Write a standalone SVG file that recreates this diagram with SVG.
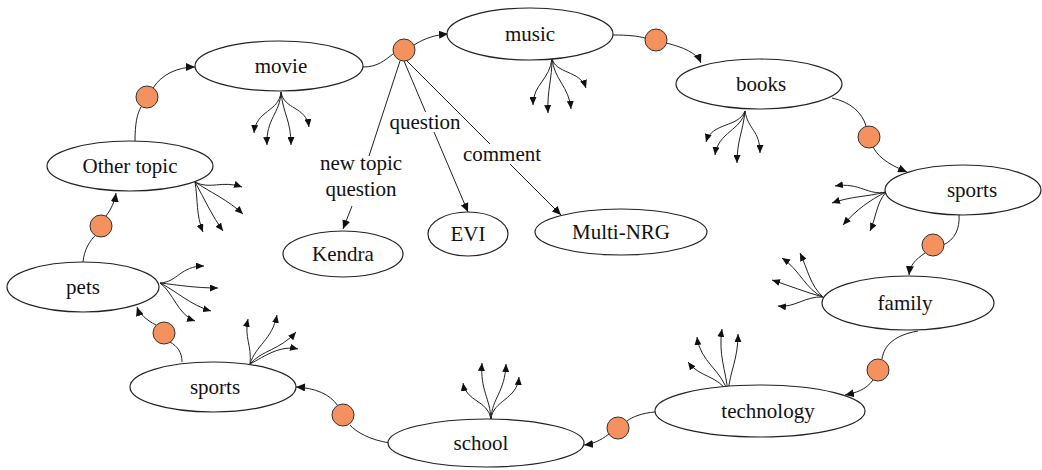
<svg xmlns="http://www.w3.org/2000/svg" width="1042" height="470" viewBox="0 0 1042 470">
  <defs>
    <marker id="arrow" markerUnits="userSpaceOnUse" markerWidth="9" markerHeight="8" refX="9" refY="4" orient="auto">
      <path d="M0,0 L9,4 L0,8 z" fill="#111"/>
    </marker>
    <marker id="arrow-sm" markerUnits="userSpaceOnUse" markerWidth="8" markerHeight="7" refX="8" refY="3.5" orient="auto">
      <path d="M0,0 L8,3.5 L0,7 z" fill="#111"/>
    </marker>
    <style>
      .node ellipse { fill: #fff; stroke: #222; stroke-width: 1.2; }
      .node text, .label { font-family: "Liberation Serif", "Times New Roman", serif; font-size: 21px; fill: #111; text-anchor: middle; }
      .link { fill: none; stroke: #222; stroke-width: 1; }
      .arr { marker-end: url(#arrow); }
      .fan { fill: none; stroke: #222; stroke-width: 1; marker-end: url(#arrow-sm); }
      .hub { fill: #F4915E; stroke: #333; stroke-width: 1; }
    </style>
  </defs>

  <!-- cycle connectors and fan-out arrows -->
  <g id="connectors">
    <!-- Other topic -> movie -->
    <path class="link" d="M135,141 C135,124 137,114 141,107"/>
    <path class="link arr" d="M153,88 C162,74 178,67 195,67"/>
    <!-- movie -> music -->
    <path class="link" d="M363,67 C378,67 385,60 393,54"/>
    <path class="link arr" d="M414,45 C425,38 435,35 448,34"/>
    <!-- music -> books -->
    <path class="link" d="M613,35 C628,35 638,36 645,38"/>
    <path class="link arr" d="M666,43 C683,47 697,53 701,63"/>
    <!-- books -> sports -->
    <path class="link" d="M832,98 C850,102 862,112 866,126"/>
    <path class="link arr" d="M873,147 C880,160 893,166 907,172"/>
    <!-- sports -> family -->
    <path class="link" d="M959,215 C960,228 955,240 943,245"/>
    <path class="link arr" d="M925,253 C915,260 910,265 909,275"/>
    <!-- family -> technology -->
    <path class="link" d="M918,331 C895,335 884,345 882,359"/>
    <path class="link arr" d="M873,380 C866,390 855,393 845,395"/>
    <!-- technology -> school -->
    <path class="link" d="M655,412 C642,413 632,417 627,421"/>
    <path class="link arr" d="M609,434 C600,441 592,444 584,445"/>
    <!-- school -> sports -->
    <path class="link" d="M390,443 C370,440 356,432 350,425"/>
    <path class="link arr" d="M338,406 C330,394 315,388 296,387"/>
    <!-- sports -> pets -->
    <path class="link" d="M182,362 C182,352 177,346 170,342"/>
    <path class="link arr" d="M156,325 C146,320 139,313 137,307"/>
    <!-- pets -> Other topic -->
    <path class="link" d="M83,262 C84,250 90,240 96,235"/>
    <path class="link arr" d="M106,216 C112,208 115,200 116,193"/>

    <!-- branches from the movie/music hub -->
    <path class="link" d="M400,61 L369,156"/>
    <path class="link arr" d="M352,206 L343,229"/>
    <path class="link" d="M404,61 L425.6,112"/>
    <path class="link arr" d="M434,132 L468,212"/>
    <path class="link" d="M406,60 L490,144"/>
    <path class="link arr" d="M510,164 L561,215"/>

    <!-- movie fan -->
    <path class="fan" d="M281,92 C279,112 256,110 254,133"/>
    <path class="fan" d="M281,92 C280,114 266,118 267,145"/>
    <path class="fan" d="M281,92 C283,114 291,120 291,145"/>
    <path class="fan" d="M281,92 C284,110 306,106 309,127"/>
    <!-- music fan -->
    <path class="fan" d="M552,58 C550,80 533,84 533,105"/>
    <path class="fan" d="M552,58 C552,80 547,90 548,113"/>
    <path class="fan" d="M552,58 C554,80 569,86 571,109"/>
    <path class="fan" d="M552,58 C555,74 580,70 586,88"/>
    <!-- books fan -->
    <path class="fan" d="M745,111 C738,128 712,122 706,142"/>
    <path class="fan" d="M745,111 C742,130 718,132 715,155"/>
    <path class="fan" d="M745,111 C743,132 737,140 737,163"/>
    <path class="fan" d="M745,111 C748,130 760,130 760,153"/>
    <!-- sports (right) fan -->
    <path class="fan" d="M886,192 C868,196 860,182 835,186"/>
    <path class="fan" d="M886,192 C866,197 852,196 832,203"/>
    <path class="fan" d="M886,192 C870,200 856,210 843,225"/>
    <path class="fan" d="M886,192 C876,204 876,218 870,231"/>
    <!-- family fan -->
    <path class="fan" d="M823,297 C806,290 800,270 782,258"/>
    <path class="fan" d="M823,297 C810,285 808,270 800,253"/>
    <path class="fan" d="M823,297 C805,292 790,286 772,280"/>
    <path class="fan" d="M823,297 C805,296 795,308 778,306"/>
    <!-- technology fan -->
    <path class="fan" d="M728,393 C718,375 700,378 688,362"/>
    <path class="fan" d="M728,393 C722,370 700,362 697,337"/>
    <path class="fan" d="M728,393 C726,370 718,355 722,329"/>
    <path class="fan" d="M728,393 C730,370 738,360 738,334"/>
    <!-- school fan -->
    <path class="fan" d="M491,419 C488,400 466,402 463,383"/>
    <path class="fan" d="M491,419 C490,398 480,390 482,363"/>
    <path class="fan" d="M491,419 C492,398 505,392 506,364"/>
    <path class="fan" d="M491,419 C493,400 517,400 519,377"/>
    <!-- sports (left) fan -->
    <path class="fan" d="M250,364 C252,345 244,338 248,319"/>
    <path class="fan" d="M250,364 C256,345 272,340 277,315"/>
    <path class="fan" d="M250,364 C262,350 280,350 296,332"/>
    <path class="fan" d="M250,364 C265,356 280,345 298,349"/>
    <!-- pets fan -->
    <path class="fan" d="M160,283 C178,282 180,266 204,266"/>
    <path class="fan" d="M160,283 C178,285 195,288 218,288"/>
    <path class="fan" d="M160,283 C175,290 190,305 211,311"/>
    <path class="fan" d="M160,283 C173,292 178,315 195,321"/>
    <!-- Other topic fan -->
    <path class="fan" d="M195,182 C210,190 222,180 242,187"/>
    <path class="fan" d="M195,182 C210,192 228,200 243,214"/>
    <path class="fan" d="M195,182 C198,200 196,215 203,232"/>
    <path class="fan" d="M195,182 C204,198 212,216 223,231"/>
  </g>

  <!-- branch labels -->
  <text class="label" x="425" y="129">question</text>
  <text class="label" x="502" y="161">comment</text>
  <text class="label" x="361" y="170">new topic</text>
  <text class="label" x="361" y="196">question</text>

  <!-- transition hubs -->
  <g id="hubs">
    <circle class="hub" cx="147" cy="97" r="11"/>
    <circle class="hub" cx="404" cy="50" r="11"/>
    <circle class="hub" cx="656" cy="40" r="11"/>
    <circle class="hub" cx="869" cy="137" r="11"/>
    <circle class="hub" cx="933" cy="245" r="11"/>
    <circle class="hub" cx="878" cy="370" r="11"/>
    <circle class="hub" cx="618" cy="428" r="11"/>
    <circle class="hub" cx="343" cy="415" r="11"/>
    <circle class="hub" cx="164" cy="333" r="11"/>
    <circle class="hub" cx="101" cy="226" r="11"/>
  </g>

  <!-- topic nodes -->
  <g id="movie" class="node"><ellipse cx="279" cy="66" rx="84" ry="25"/><text x="281" y="73">movie</text></g>
  <g id="music" class="node"><ellipse cx="530" cy="34" rx="83" ry="26"/><text x="530" y="41">music</text></g>
  <g id="books" class="node"><ellipse cx="759" cy="84" rx="83" ry="25"/><text x="761" y="91">books</text></g>
  <g id="sports-right" class="node"><ellipse cx="963" cy="190" rx="78" ry="25"/><text x="972" y="197">sports</text></g>
  <g id="family" class="node"><ellipse cx="908" cy="303" rx="86" ry="27"/><text x="905" y="310">family</text></g>
  <g id="technology" class="node"><ellipse cx="760" cy="411" rx="105" ry="26"/><text x="768" y="418">technology</text></g>
  <g id="school" class="node"><ellipse cx="486" cy="443" rx="98" ry="24"/><text x="481" y="450">school</text></g>
  <g id="sports-left" class="node"><ellipse cx="213" cy="387" rx="83" ry="25"/><text x="215" y="394">sports</text></g>
  <g id="pets" class="node"><ellipse cx="83" cy="287" rx="76" ry="25"/><text x="83" y="294">pets</text></g>
  <g id="other-topic" class="node"><ellipse cx="130" cy="166" rx="83" ry="25"/><text x="130" y="173">Other topic</text></g>

  <!-- responder nodes -->
  <g id="kendra" class="node"><ellipse cx="343" cy="254" rx="60" ry="23"/><text x="343" y="261">Kendra</text></g>
  <g id="evi" class="node"><ellipse cx="468" cy="234" rx="40" ry="22"/><text x="468" y="241">EVI</text></g>
  <g id="multi-nrg" class="node"><ellipse cx="621" cy="232" rx="86" ry="23"/><text x="621" y="239">Multi-NRG</text></g>
</svg>
